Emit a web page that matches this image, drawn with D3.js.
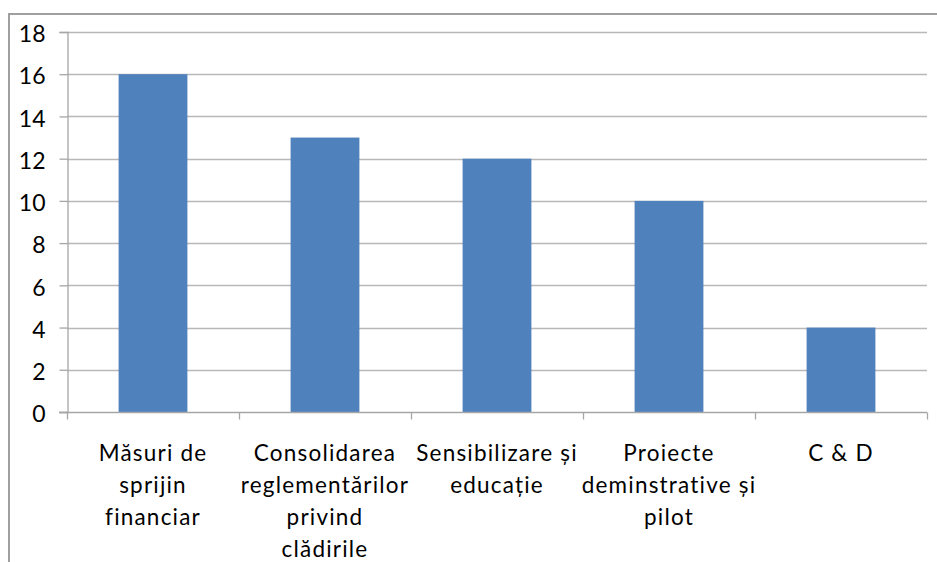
<!DOCTYPE html>
<html>
<head>
<meta charset="utf-8">
<script src="https://cdn.jsdelivr.net/npm/d3@7/dist/d3.min.js"></script>
<style>
html,body{margin:0;padding:0;background:#fff;overflow:hidden;}
svg{display:block;}
text{font-family:"Lato","Liberation Sans",sans-serif;fill:#000;}
</style>
</head>
<body>
<svg id="chart" width="937" height="562"></svg>
<script>
const categories = [
  ["Măsuri de", "sprijin", "financiar"],
  ["Consolidarea", "reglementărilor", "privind", "clădirile"],
  ["Sensibilizare și", "educație"],
  ["Proiecte", "deminstrative și", "pilot"],
  ["C & D"]
];
const values = [16, 13, 12, 10, 4];
const yTicks = [0, 2, 4, 6, 8, 10, 12, 14, 16, 18];

const svg = d3.select("#chart");
const plot = {left: 67, right: 927, top: 32, bottom: 412};

// outer border
svg.append("rect")
  .attr("x", 9).attr("y", 14)
  .attr("width", 940).attr("height", 560)
  .attr("fill", "none").attr("stroke", "#a0a0a0").attr("stroke-width", 2);

const x = d3.scaleBand()
  .domain(d3.range(categories.length))
  .range([plot.left, plot.right])
  .paddingInner(0).paddingOuter(0);

const y = d3.scaleLinear().domain([0, 18]).range([plot.bottom, plot.top]);

// gridlines
svg.append("g").selectAll("line")
  .data(yTicks.filter(t => t > 0))
  .join("line")
  .attr("x1", plot.left).attr("x2", plot.right)
  .attr("y1", d => Math.round(y(d)) + 0.5).attr("y2", d => Math.round(y(d)) + 0.5)
  .attr("stroke", "#b8b8b8").attr("stroke-width", 1.3);

// y axis
const yAxis = d3.axisLeft(y).tickValues(yTicks).tickSize(8).tickPadding(14).tickFormat(d3.format("d"));
const gy = svg.append("g").attr("transform", `translate(${plot.left + 0.5},0)`).call(yAxis);
gy.select(".domain").attr("stroke", "#a6a6a6").attr("stroke-width", 1.3);
gy.selectAll(".tick line").attr("stroke", "#a6a6a6").attr("stroke-width", 1.3);
gy.selectAll(".tick text")
  .attr("font-size", 23).attr("font-family", "Lato, 'Liberation Sans', sans-serif")
  .attr("fill", "#000").attr("dy", "0.42em");

// bars
const bw = x.bandwidth() * 0.4;
svg.append("g").selectAll("rect")
  .data(values)
  .join("rect")
  .attr("x", (d, i) => x(i) + (x.bandwidth() - bw) / 2)
  .attr("width", bw)
  .attr("y", d => y(d))
  .attr("height", d => y(0) - y(d))
  .attr("fill", "#4f81bd");

// x axis
const xAxisScale = d3.scaleLinear().domain([0, categories.length]).range([plot.left, plot.right]);
const gx = svg.append("g").attr("transform", `translate(0,${plot.bottom + 0.5})`);
gx.append("line").attr("x1", plot.left - 8).attr("x2", plot.right)
  .attr("stroke", "#a6a6a6").attr("stroke-width", 1.3);
gx.selectAll("line.tk")
  .data(d3.range(categories.length + 1))
  .join("line").attr("class", "tk")
  .attr("x1", d => Math.round(xAxisScale(d)) + 0.5).attr("x2", d => Math.round(xAxisScale(d)) + 0.5)
  .attr("y1", 0).attr("y2", 7)
  .attr("stroke", "#a6a6a6").attr("stroke-width", 1.3);

// category labels
const lbl = svg.append("g");
categories.forEach((lines, i) => {
  const cx = x(i) + x.bandwidth() / 2;
  const t = lbl.append("text")
    .attr("text-anchor", "middle")
    .attr("font-size", 22.5)
    .attr("letter-spacing", "1.2px");
  lines.forEach((ln, j) => {
    t.append("tspan").attr("x", cx).attr("y", 461 + j * 32).text(ln);
  });
});
</script>
</body>
</html>
